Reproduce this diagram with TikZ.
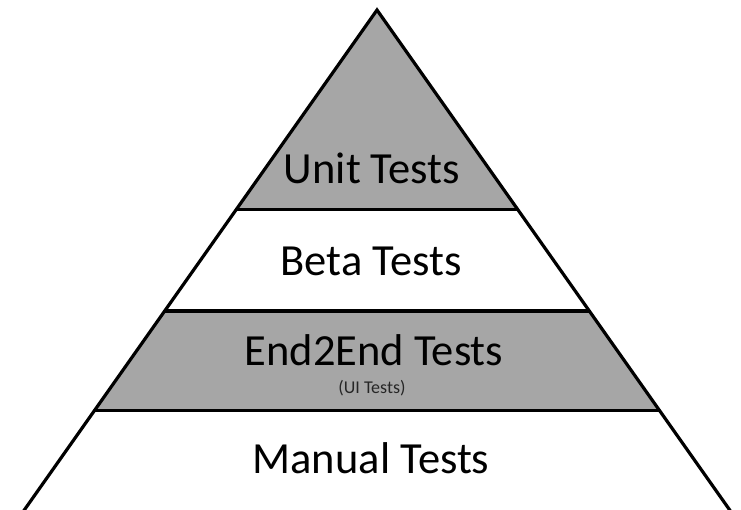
\documentclass[tikz,border=0pt]{standalone}
\usepackage{fontspec}
\setmainfont{Carlito}
\usepackage{tikz}
\usetikzlibrary{calc}

\definecolor{bandgray}{HTML}{A6A6A6}
\tikzset{
  edge/.style={line width=3.2pt, line join=miter},
  tiername/.style={anchor=base, inner sep=0pt, font=\fontsize{44.5}{50}\selectfont},
  subname/.style={anchor=base, inner sep=0pt, text=black!85, font=\fontsize{18}{20}\selectfont}
}

\begin{document}
\begin{tikzpicture}[x=1pt,y=-1pt]
            \clip (0,0) rectangle (741,509);
            \coordinate (apex) at (377,10);
            \coordinate (bl) at (25,509);
            \coordinate (br) at (729,509);
            \coordinate (l1) at ($(apex)!0.399!(bl)$);
            \coordinate (r1) at ($(apex)!0.399!(br)$);
            \coordinate (l2) at ($(apex)!0.603!(bl)$);
            \coordinate (r2) at ($(apex)!0.603!(br)$);
            \coordinate (l3) at ($(apex)!0.802!(bl)$);
            \coordinate (r3) at ($(apex)!0.802!(br)$);
            % grey tiers
            \fill[bandgray] (apex) -- (l1) -- (r1) -- cycle;
            \fill[bandgray] (l2) -- (r2) -- (r3) -- (l3) -- cycle;
            % tier lines
            \draw[edge] (l1) -- (r1);
            \draw[edge] (l2) -- (r2);
            \draw[edge] (l3) -- (r3);
            \draw[edge] ($(bl)!-0.02!(apex)$) -- (apex) -- ($(br)!-0.02!(apex)$);
            % tier names
            \node[tiername] (unit) at (372,183) {Unit Tests};
            \node[tiername] (beta) at (371,275) {Beta Tests};
            \node[tiername] (e2e) at (374,365) {End2End Tests};
            \node[subname] (ui) at (372,393) {(UI Tests)};
            \node[tiername] (manual) at (371,473) {Manual Tests};
        \end{tikzpicture}
\end{document}
